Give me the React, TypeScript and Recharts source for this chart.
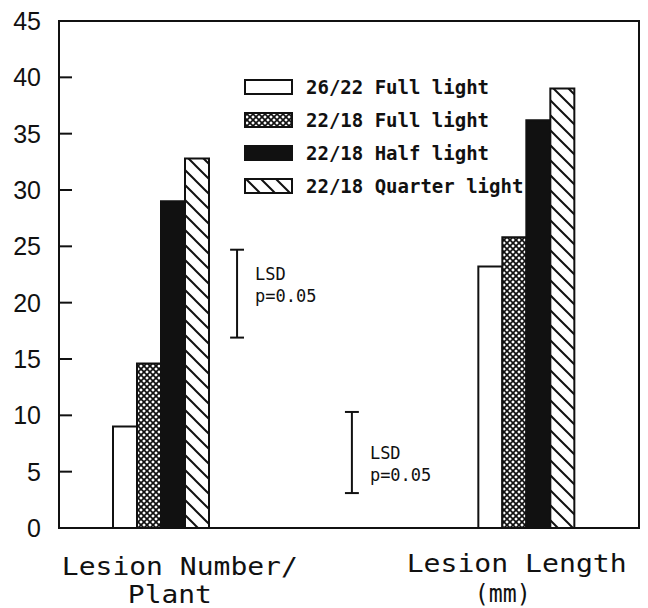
import React from "react";
import {
  BarChart, Bar, XAxis, YAxis, ReferenceLine, ReferenceArea,
} from "recharts";

// categories ("|" splits the two label lines); the empty one is a spacer between groups
const CATEGORIES = ["Lesion Number/|Plant", "", "Lesion Length|(mm)"];

const FULL_26_22 = [9.0, null, 23.2];
const FULL_22_18 = [14.6, null, 25.8];
const HALF_22_18 = [29.0, null, 36.2];
const QUARTER_22_18 = [32.8, null, 39.0];

const SERIES_NAMES = [
  "26/22 Full light",
  "22/18 Full light",
  "22/18 Half light",
  "22/18 Quarter light",
];

const LSD_LOW = [16.9, 3.1];
const LSD_HIGH = [24.7, 10.3];

const Y_TICKS = [0, 5, 10, 15, 20, 25, 30, 35, 40, 45];

const data = CATEGORIES.map((name, i) => ({
  name,
  s1: FULL_26_22[i],
  s2: FULL_22_18[i],
  s3: HALF_22_18[i],
  s4: QUARTER_22_18[i],
}));

const FILLS = ["#ffffff", "url(#cross)", "#111111", "url(#hatch)"];
const KEYS = ["s1", "s2", "s3", "s4"];

const MONO = "'DejaVu Sans Mono', 'Liberation Mono', monospace";
const SANS = "'Liberation Sans', Arial, sans-serif";

// where the LSD bars sit across the plot (fraction of width) and where their text goes
const LSD_POS = [0.307, 0.505];
const LSD_TEXT_DY = [24, 41];

// hand placement of the two-line category labels (they are not centred in the scan)
const LABEL_LAYOUT = [
  { dx: [18.5, 8.5], dy: [39, 67], len: [236, 84] },
  null,
  { dx: [-10, -24], dy: [36, 66], len: [220, 56] },
];

function XTick(props: any) {
  const { x, y, payload, index } = props;
  const lay = LABEL_LAYOUT[index];
  if (!payload.value || !lay) return null;
  const lines = String(payload.value).split("|");
  return (
    <g>
      {lines.map((l: string, i: number) => (
        <text
          key={i}
          x={x + lay.dx[i]}
          y={y + lay.dy[i]}
          textAnchor="middle"
          fontFamily={MONO}
          fontSize={24}
          textLength={lay.len[i]}
          lengthAdjust="spacingAndGlyphs"
          fill="#111"
        >
          {l}
        </text>
      ))}
    </g>
  );
}

function Legend() {
  return (
    <div style={{ position: "absolute", left: 244, top: 70 }}>
      {SERIES_NAMES.map((n, i) => (
        <div key={n} style={{ display: "flex", alignItems: "center", height: 33 }}>
          <svg width={50} height={18} style={{ marginRight: 12 }}>
            <rect x={1} y={2} width={47} height={14} fill={FILLS[i]} stroke="#111" strokeWidth={2} />
          </svg>
          <span style={{ fontFamily: MONO, fontSize: 19, fontWeight: "bold", color: "#111", whiteSpace: "nowrap" }}>
            {n}
          </span>
        </div>
      ))}
    </div>
  );
}

export default function App() {
  return (
    <div style={{ position: "absolute", left: 0, top: 0, width: 648, height: 608, background: "#fff" }}>
      <BarChart
        width={648}
        height={608}
        data={data}
        margin={{ top: 21, right: 9, left: 0, bottom: 0 }}
        barGap={0}
        barSize={24}
      >
        <defs>
          <pattern id="cross" patternUnits="userSpaceOnUse" width={6} height={6}>
            <rect width={6} height={6} fill="#fff" />
            <path d="M0,0 L6,6 M6,0 L0,6" stroke="#111" strokeWidth={1.7} />
          </pattern>
          <pattern id="hatch" patternUnits="userSpaceOnUse" width={15} height={15}>
            <rect width={15} height={15} fill="#fff" />
            <path d="M-2,-2 L17,17 M-2,13 L2,17 M13,-2 L17,2" stroke="#111" strokeWidth={2} />
          </pattern>
        </defs>
        <XAxis
          dataKey="name"
          height={80}
          axisLine={{ stroke: "#111", strokeWidth: 2 }}
          tickLine={false}
          interval={0}
          padding={{ left: 11, right: 21 }}
          tick={<XTick />}
        />
        <XAxis
          xAxisId="pos"
          type="number"
          dataKey="none"
          domain={[0, 1]}
          allowDataOverflow
          hide
        />
        <YAxis
          width={59}
          domain={[0, 45]}
          ticks={Y_TICKS}
          interval={0}
          axisLine={{ stroke: "#111", strokeWidth: 2 }}
          tickLine={{ stroke: "#111", strokeWidth: 2 }}
          tickSize={-13}
          tickMargin={31}
          tick={{ fill: "#111", fontSize: 25, fontFamily: SANS }}
        />
        <ReferenceArea
          xAxisId="pos"
          x1={0}
          x2={1}
          y1={0}
          y2={45}
          fill="none"
          stroke="#111"
          strokeWidth={2}
          ifOverflow="visible"
        />
        {KEYS.map((k, i) => (
          <Bar
            key={k}
            dataKey={k}
            name={SERIES_NAMES[i]}
            fill={FILLS[i]}
            stroke="#111"
            strokeWidth={2}
            isAnimationActive={false}
          />
        ))}
        {LSD_POS.map((px, i) => (
          <ReferenceLine
            key={"v" + i}
            xAxisId="pos"
            segment={[{ x: px, y: LSD_LOW[i] }, { x: px, y: LSD_HIGH[i] }]}
            stroke="#111"
            strokeWidth={2}
            label={{
              content: (p: any) => {
                const vb = p.viewBox || {};
                const top = Math.min(vb.y, vb.y + vb.height);
                return (
                  <g fontFamily={MONO} fontSize={17} fill="#111">
                    <text x={vb.x + 18} y={top + LSD_TEXT_DY[i] + 6}>LSD</text>
                    <text x={vb.x + 18} y={top + LSD_TEXT_DY[i] + 28}>p=0.05</text>
                  </g>
                );
              },
            }}
          />
        ))}
        {LSD_POS.map((px, i) =>
          [LSD_LOW[i], LSD_HIGH[i]].map((v, j) => (
            <ReferenceLine
              key={"c" + i + j}
              xAxisId="pos"
              segment={[{ x: px - 0.012, y: v }, { x: px + 0.012, y: v }]}
              stroke="#111"
              strokeWidth={2}
            />
          ))
        )}
      </BarChart>
      <Legend />
    </div>
  );
}
